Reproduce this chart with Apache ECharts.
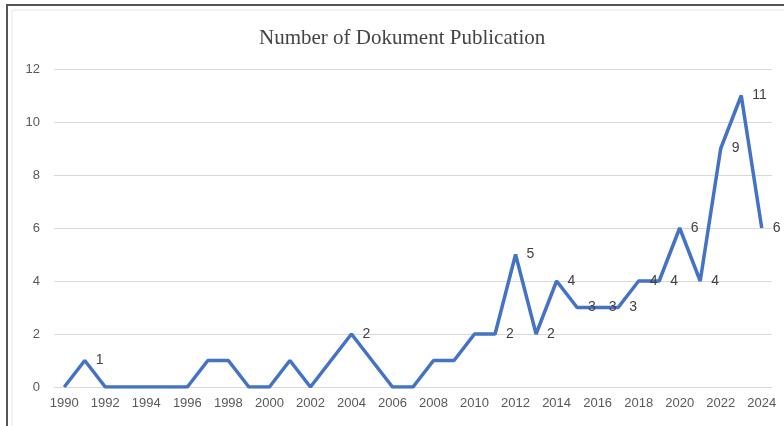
<!DOCTYPE html>
<html>
<head>
<meta charset="utf-8">
<script src="https://cdn.jsdelivr.net/npm/echarts@6/dist/echarts.min.js"></script>
<style>
  html, body { margin: 0; padding: 0; background: #fff; }
  #chart { width: 784px; height: 426px; }
</style>
</head>
<body>
<div id="chart"></div>
<script>
// years on the x axis
const years = [];
for (let y = 1990; y <= 2024; y++) years.push(String(y));
// documents per year
const docs = [0, 1, 0, 0, 0, 0, 0, 1, 1, 0,
              0, 1, 0, 1, 2, 1, 0, 0, 1, 1,
              2, 2, 5, 2, 4, 3, 3, 3, 4, 4,
              6, 4, 9, 11, 6];
// years that carry a value label
const labelYears = ['1991', '2004', '2011', '2012', '2013', '2014', '2015', '2016',
                    '2017', '2018', '2019', '2020', '2021', '2022', '2023', '2024'];

const chart = echarts.init(document.getElementById('chart'));
const option = {
  animation: false,
  graphic: [
    {
      type: 'rect', silent: true,
      shape: { x: 7, y: 5, width: 800, height: 440 },
      style: { fill: 'none', stroke: '#555', lineWidth: 2 }
    },
    {
      type: 'rect', silent: true,
      shape: { x: 12, y: 10, width: 800, height: 440 },
      style: { fill: 'none', stroke: '#e6e6e6', lineWidth: 1 }
    }
  ],
  title: {
    text: 'Number of Dokument Publication',
    left: 254,
    top: 23,
    textStyle: { fontFamily: 'Liberation Serif', fontSize: 21, fontWeight: 'normal', color: '#444' }
  },
  grid: { left: 54, right: 12, top: 69, bottom: 39 },
  xAxis: {
    type: 'category',
    data: years,
    boundaryGap: true,
    axisTick: { show: false },
    axisLine: { lineStyle: { color: '#d9d9d9' } },
    axisLabel: { interval: 1, color: '#595959', fontFamily: 'Liberation Sans', fontSize: 13, margin: 10 }
  },
  yAxis: {
    type: 'value',
    min: 0, max: 12, interval: 2,
    axisLine: { show: false },
    axisTick: { show: false },
    splitLine: { lineStyle: { color: '#d9d9d9' } },
    axisLabel: { color: '#595959', fontFamily: 'Liberation Sans', fontSize: 13, margin: 14 }
  },
  series: [{
    type: 'line',
    data: docs.map((v, i) => ({
      value: v,
      label: { show: labelYears.indexOf(years[i]) >= 0 }
    })),
    symbol: 'circle',
    symbolSize: 0,
    showSymbol: true,
    itemStyle: { color: '#4472C4' },
    lineStyle: { color: '#4472C4', width: 3.5 },
    label: {
      position: 'right', distance: 11,
      color: '#404040', fontFamily: 'Liberation Sans', fontSize: 14
    }
  }]
};
chart.setOption(option);
</script>
</body>
</html>
